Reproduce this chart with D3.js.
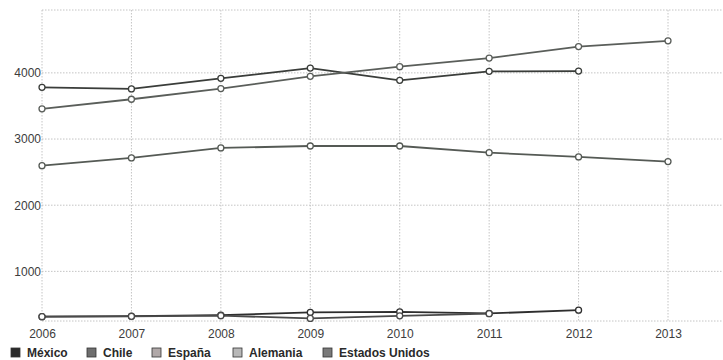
<!DOCTYPE html>
<html><head><meta charset="utf-8">
<script src="https://cdn.jsdelivr.net/npm/d3@7"></script>
<style>body{margin:0;background:#fff;}svg{display:block;}</style>
</head><body>
<svg id="c" width="723" height="360"></svg>
<script>
const years = [2006,2007,2008,2009,2010,2011,2012,2013];
const yTicks = [1000,2000,3000,4000];
const seriesNames = ["México","Chile","España","Alemania","Estados Unidos"];
const mexico   = [316,323,340,379,388,364,414];
const chile    = [316,320,330,289,328,360];
const espana   = [2598,2714,2865,2895,2895,2794,2729,2659];
const alemania = [3782,3757,3917,4072,3887,4023,4027];
const eeuu     = [3456,3601,3762,3947,4093,4223,4398,4484];
const seriesValues = [mexico,chile,espana,alemania,eeuu];
const lineColors = ["#2e2e2e","#4a4a4a","#555a55","#3a3d3a","#5a5e5a"];
const swatchColors = ["#2a2a2a","#6e6e6e","#b0a8a8","#b8b8b8","#7a7a7a"];

const svg = d3.select("#c");
const x = d3.scaleLinear().domain([2006, 2013.615]).range([42, 723]);
const y = d3.scaleLinear().domain([250, 4950]).range([321, 10]);

// grid
const g = svg.append("g");
g.selectAll("line.h").data(yTicks.concat([4950, 250])).enter().append("line")
  .attr("x1", 42).attr("x2", 723).attr("y1", d=>y(d)).attr("y2", d=>y(d))
  .attr("stroke", "#c4c4c4").attr("stroke-width", 1).attr("stroke-dasharray", "1.5,1.5");
g.selectAll("line.v").data(years).enter().append("line")
  .attr("x1", d=>x(d)).attr("x2", d=>x(d)).attr("y1", 10).attr("y2", 321)
  .attr("stroke", "#c4c4c4").attr("stroke-width", 1).attr("stroke-dasharray", "1.5,1.5");

// axes
const yAxis = d3.axisLeft(y).tickValues(yTicks).tickSize(0).tickPadding(1).tickFormat(d3.format("d"));
const ya = svg.append("g").attr("transform","translate(42,0)").call(yAxis);
ya.select(".domain").remove();
ya.selectAll("text").attr("font-family","'Liberation Sans', Arial, sans-serif").attr("font-size","12px").attr("fill","#3c3c3c");

const xAxis = d3.axisBottom(x).tickValues(years).tickSize(0).tickPadding(8).tickFormat(d3.format("d"));
const xa = svg.append("g").attr("transform","translate(0,321)").call(xAxis);
xa.select(".domain").remove();
xa.selectAll("text").attr("font-family","'Liberation Sans', Arial, sans-serif").attr("font-size","12px").attr("fill","#3c3c3c");

// lines
const line = d3.line().x((d,i)=>x(years[i])).y(d=>y(d));
seriesValues.forEach((vals, k) => {
  svg.append("path").datum(vals).attr("d", line).attr("fill","none")
    .attr("stroke", lineColors[k]).attr("stroke-width", 1.8);
});
seriesValues.forEach((vals, k) => {
  svg.append("g").selectAll("circle").data(vals).enter().append("circle")
    .attr("cx",(d,i)=>x(years[i])).attr("cy", d=>y(d)).attr("r", 3)
    .attr("fill","#fff").attr("stroke", lineColors[k]).attr("stroke-width", 1.3);
});

// legend
const legX = [11, 87, 152, 233, 323];
const leg = svg.append("g");
seriesNames.forEach((n, k) => {
  leg.append("rect").attr("x", legX[k]).attr("y", 348).attr("width", 9).attr("height", 9)
    .attr("fill", swatchColors[k]).attr("stroke","#333").attr("stroke-width",0.8);
  leg.append("text").attr("x", legX[k] + 16).attr("y", 357)
    .attr("font-family","'Liberation Sans', Arial, sans-serif").attr("font-size","12px")
    .attr("font-weight","bold").attr("fill","#2a2a2a").text(n);
});
</script>
</body></html>
